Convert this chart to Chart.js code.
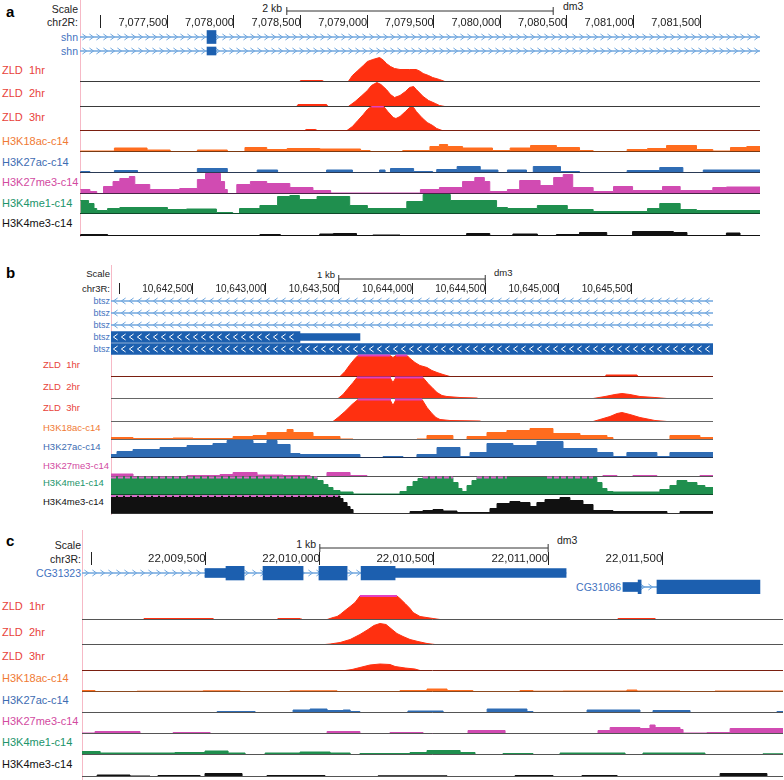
<!DOCTYPE html>
<html><head><meta charset="utf-8">
<script src="https://cdn.jsdelivr.net/npm/chart.js@4.4.1/dist/chart.umd.min.js"></script>
<style>
html,body{margin:0;padding:0;background:#fff;}
body{position:relative;width:784px;height:780px;overflow:hidden;font-family:"Liberation Sans",Arial,Helvetica,sans-serif;}
.t{position:absolute;white-space:pre;line-height:14px;}
.vl{position:absolute;width:1px;background:#f6b9c6;}
canvas{position:absolute;}
</style></head><body>
<script>
// ---------------- DATA ----------------
// Panel a: chr2R
const A_RANGE = [7076897, 7081897];
const A_TICKS = [7077000, 7077500, 7078000, 7078500, 7079000, 7079500, 7080000, 7080500, 7081000, 7081500];
const A_TICK_LABELS = ['', '7,077,500', '7,078,000', '7,078,500', '7,079,000', '7,079,500', '7,080,000', '7,080,500', '7,081,000', '7,081,500'];
const A_SCALEBAR = [7078397, 7080397];
const A_GENE_NAMES = ['shn', 'shn'];
const A_INTRONS = [[0, 7076897, 7081897, '+'], [1, 7076897, 7081897, '+']];
const A_EXONS = [[0, 7077831, 7077897, '+']];
const A_UTRS = [[1, 7077831, 7077897, '+']];
const A_ZLD1 = [[7078510,0],[7078520,1],[7078680,1],[7078690,0],[7078870,0],[7078900,6],[7078940,11],[7078980,16],[7079010,20],[7079050,22],[7079100,24],[7079130,21],[7079150,18],[7079180,15],[7079210,13],[7079250,12],[7079320,12],[7079370,12],[7079400,10],[7079420,8],[7079460,6],[7079490,4],[7079540,2],[7079580,0]];
const A_ZLD2 = [[7078490,0],[7078500,2],[7078710,2],[7078720,0],[7078870,0],[7078920,5],[7078970,11],[7079010,16],[7079040,21],[7079080,24],[7079110,22],[7079150,17],[7079180,12],[7079210,9],[7079250,11],[7079290,15],[7079320,19],[7079350,20],[7079370,17],[7079420,10],[7079460,6],[7079510,3],[7079540,1],[7079580,0]];
const A_ZLD3 = [[7078550,0],[7078560,1],[7078630,1],[7078640,0],[7078860,0],[7078900,4],[7078940,10],[7078980,16],[7079010,21],[7079040,24],[7079130,24],[7079160,19],[7079200,13],[7079220,12],[7079250,14],[7079290,19],[7079320,23],[7079350,23],[7079370,19],[7079410,13],[7079450,8],[7079490,5],[7079520,2],[7079560,0]];
const A_ZLD3_CLIP = [[7079040, 7079130]];
const A_K18 = [[7076900,0.5],[7077150,3.5],[7077390,1.5],[7077560,0],[7077760,1.5],[7077980,0],[7078110,4],[7078270,2],[7078420,3],[7078660,2.5],[7078960,1],[7079030,0],[7079270,1],[7079470,5],[7079540,7],[7079600,5],[7079710,3.5],[7079930,1],[7080060,3.5],[7080210,6],[7080400,4],[7080570,1],[7080670,0],[7080920,2],[7081070,3],[7081210,6],[7081430,2],[7081550,0.5],[7081680,4],[7081800,5],[7081897,5]];
const A_K27AC = [[7076900,1],[7076970,0],[7077150,2],[7077320,0],[7077760,4],[7077980,0],[7078200,2.5],[7078350,0],[7078710,2.5],[7078900,0],[7079100,2.5],[7079140,0],[7079180,4],[7079350,1],[7079490,0],[7079520,3],[7079670,6],[7079840,2.5],[7079970,0],[7080040,2.5],[7080180,0],[7080230,6],[7080430,1],[7080570,0],[7080920,2],[7081160,5],[7081330,0],[7081480,2.5],[7081897,2.5]];
const A_K27ME3 = [[7076900,4],[7076970,2],[7077020,0],[7077070,7],[7077140,12],[7077190,15],[7077260,17],[7077300,9],[7077410,4],[7077630,5],[7077760,14],[7077820,20],[7077930,12],[7077960,4],[7077980,0],[7078050,9],[7078150,12],[7078270,10],[7078440,6],[7078610,3],[7078740,0.5],[7079400,4],[7079540,6],[7079710,12],[7079800,16],[7079870,12],[7079910,2],[7080040,4],[7080130,13],[7080280,8],[7080380,16],[7080450,19],[7080520,6],[7080670,2],[7080820,7],[7080960,3],[7081180,7],[7081310,3],[7081550,6],[7081650,6.5],[7081897,6.5]];
const A_K4ME1 = [[7076900,13],[7076960,10],[7077000,5],[7077020,3],[7077100,5],[7077190,6],[7077540,4],[7077680,4.5],[7077900,1],[7078020,0],[7078070,5],[7078220,8],[7078350,17],[7078440,18],[7078510,14],[7078640,17],[7078880,8],[7079010,5],[7079300,12],[7079420,19],[7079620,13],[7079960,6],[7080040,5],[7080260,8],[7080480,4],[7080670,2],[7081070,5],[7081160,10],[7081310,4],[7081430,3],[7081897,3]];
const A_K4ME3 = [[7076900,1],[7077100,0],[7078220,1],[7078370,0],[7078660,1.5],[7078760,2],[7078930,0],[7079050,0.5],[7079250,0],[7079740,2],[7079910,0],[7080080,1.5],[7080260,0],[7080400,1],[7080570,3],[7080770,0],[7080960,4],[7081260,3],[7081360,0],[7081650,2.5],[7081750,0],[7081897,0]];

// Panel b: chr3R (btsz)
const B_RANGE = [10641993, 10646007];
const B_TICKS = [10642000, 10642500, 10643000, 10643500, 10644000, 10644500, 10645000, 10645500];
const B_TICK_LABELS = ['', '10,642,500', '10,643,000', '10,643,500', '10,644,000', '10,644,500', '10,645,000', '10,645,500'];
const B_SCALEBAR = [10643500, 10644500];
const B_GENE_NAMES = ['btsz', 'btsz', 'btsz', 'btsz', 'btsz'];
const B_INTRONS = [[0, 10641993, 10646007, '-'], [1, 10641993, 10646007, '-'], [2, 10641993, 10646007, '-']];
const B_EXONS = [[3, 10641993, 10643253, '-'], [4, 10641993, 10646007, '-']];
const B_UTRS = [[3, 10643253, 10643653, '-']];
const B_ZLD1 = [[10643520,0],[10643553,5],[10643587,12],[10643620,18],[10643640,21],[10643853,21],[10643873,19],[10643893,21],[10643967,21],[10643987,18],[10644020,14],[10644053,11],[10644100,9],[10644133,6],[10644167,4],[10644207,2],[10644253,0],[10645287,0],[10645293,1.5],[10645500,1.5],[10645507,0]];
const B_ZLD1_CLIP = [[10643640,10643853],[10643893,10643967]];
const B_ZLD2 = [[10643507,0],[10643540,4],[10643573,10],[10643607,16],[10643633,21],[10643853,21],[10643873,16],[10643893,21],[10644073,21],[10644107,15],[10644140,10],[10644167,6],[10644200,3],[10644233,2],[10644320,1],[10644433,0.5],[10644440,0],[10645207,0],[10645287,2],[10645353,4],[10645400,5],[10645453,4],[10645520,2],[10645620,1],[10645700,0]];
const B_ZLD2_CLIP = [[10643633,10643860],[10643886,10644073]];
const B_ZLD3 = [[10643473,0],[10643507,4],[10643553,10],[10643600,17],[10643640,22],[10643853,22],[10643873,16],[10643893,22],[10644067,22],[10644100,14],[10644133,8],[10644160,4],[10644187,2],[10644253,1],[10644453,0.5],[10644460,0],[10645207,0],[10645253,2],[10645320,5],[10645367,8],[10645400,9],[10645453,7],[10645520,4],[10645620,1],[10645700,0]];
const B_ZLD3_CLIP = [[10643640,10643860],[10643886,10644067]];
const B_K18 = [[10641993,2],[10642140,1],[10642407,1.5],[10642540,1],[10642807,3],[10642940,4],[10643033,7],[10643167,10],[10643207,7],[10643340,3],[10643520,0.5],[10643607,0],[10644033,0.5],[10644100,4],[10644273,0],[10644367,3],[10644500,7],[10644633,9],[10644787,11],[10644940,6],[10645120,4],[10645300,2],[10645340,0],[10645720,4],[10645920,2],[10646007,2]];
const B_K27AC = [[10641993,3],[10642033,6],[10642140,8],[10642320,10],[10642500,12],[10642673,14],[10642767,17],[10642940,14],[10643033,17],[10643100,13],[10643187,4],[10643253,3],[10643653,0],[10643807,1],[10643940,0],[10644033,3],[10644167,10],[10644320,1],[10644387,5],[10644500,14],[10644673,12],[10644833,16],[10645007,9],[10645233,5],[10645340,1],[10645433,5],[10645633,1],[10645720,5],[10646007,5]];
const B_K27ME3 = [[10641993,2.5],[10642140,0],[10642500,1],[10642720,2],[10642807,4],[10642967,1.5],[10643140,1],[10643320,0],[10643433,4],[10643587,1],[10643700,0],[10645273,1],[10645367,0],[10645473,1],[10645633,0],[10645920,1],[10646007,1]];
const B_K4ME1 = [[10641993,17],[10643367,14],[10643407,10],[10643440,7],[10643473,4],[10643520,2.5],[10643607,0.5],[10643920,3],[10643967,8],[10644007,13],[10644040,16],[10644073,17],[10644273,12],[10644307,6],[10644333,3],[10644367,9],[10644400,14],[10644433,17],[10645233,12],[10645267,6],[10645300,3],[10645340,2.5],[10645653,5],[10645720,9],[10645767,14],[10645833,12],[10645900,9],[10645953,7],[10646007,7]];
const B_K4ME1_CLIP = [[10641993,10643367],[10644073,10644273],[10644433,10644633],[10644900,10645207]];
const B_K4ME3 = [[10641993,17.5],[10643520,15],[10643540,11],[10643567,7],[10643587,4],[10643607,0],[10643987,2],[10644073,3],[10644140,4],[10644207,2.5],[10644300,1],[10644520,5],[10644567,10],[10644653,12],[10644720,11],[10644787,7],[10644833,11],[10644887,14],[10644987,16],[10645053,13],[10645140,9],[10645207,3],[10645340,2],[10645700,0],[10645787,2],[10646007,2]];
const B_K4ME3_CLIP = [[10641993,10643507]];

// Panel c: chr3R (CG31323 / CG31086)
const C_RANGE = [22008989, 22011998];
const C_TICKS = [22009000, 22009500, 22010000, 22010500, 22011000, 22011500];
const C_TICK_LABELS = ['', '22,009,500', '22,010,000', '22,010,500', '22,011,000', '22,011,500'];
const C_SCALEBAR = [22010000, 22011000];
const C_GENE_NAMES = ['CG31323', 'CG31086'];
const C_INTRONS = [[0, 22008989, 22011067, '+'], [1, 22011376, 22011457, '+']];
const C_EXONS = [[0,22009607,22009685,'+'],[0,22009766,22009938,'+'],[0,22010006,22010127,'+'],[0,22010187,22010333,'+'],[1,22011376,22011389,'+'],[1,22011457,22011899,'+']];
const C_UTRS = [[0,22009517,22009607,'+'],[0,22010333,22011067,'+'],[1,22011311,22011376,'+']];
const C_ZLD1 = [[22009251,0],[22009255,1],[22009552,1],[22009556,0],[22009826,0],[22009830,1],[22009925,1],[22009929,0],[22010041,0],[22010067,2],[22010084,3],[22010097,5],[22010118,9],[22010140,13],[22010161,17],[22010182,23.5],[22010341,23.5],[22010354,21],[22010376,16],[22010397,11],[22010410,7],[22010440,3],[22010496,1],[22010526,0],[22011286,0],[22011290,1],[22011449,1],[22011453,0]];
const C_ZLD1_CLIP = [[22010182, 22010341]];
const C_ZLD2 = [[22010032,0],[22010054,0.5],[22010097,2],[22010140,5],[22010182,10],[22010217,15],[22010242,19],[22010268,21],[22010294,20],[22010320,15],[22010341,11],[22010367,8],[22010397,5],[22010431,3],[22010470,1],[22010504,0]];
const C_ZLD3 = [[22010118,0],[22010148,1],[22010182,3],[22010225,5.5],[22010268,6.5],[22010311,6],[22010333,4],[22010376,2.5],[22010418,1.5],[22010440,0]];
const C_K18 = [[22008989,1],[22009045,0],[22009225,0.3],[22009509,0.7],[22009667,0],[22009882,0.7],[22010084,0],[22010354,1],[22010470,2.5],[22010556,1],[22010667,0],[22010869,1],[22010925,0.3],[22011054,0.5],[22011328,1.5],[22011371,0.5],[22011556,0],[22011706,0.5],[22011998,0.5]];
const C_K27AC = [[22008989,0],[22009569,1],[22009732,0],[22009895,2.5],[22009968,3.5],[22010041,2],[22010110,2.5],[22010140,1],[22010182,0],[22010388,1.5],[22010539,0],[22010728,3.5],[22010899,1],[22010925,0],[22011157,2.5],[22011384,0],[22011440,2],[22011599,0],[22011972,1],[22011998,1]];
const C_K27ME3 = [[22008989,0.5],[22009045,2],[22009238,0],[22009380,1],[22009539,0],[22010041,2],[22010182,0],[22010311,1],[22010453,0],[22010646,3],[22010805,0],[22011204,3],[22011256,6],[22011384,5],[22011427,8.5],[22011449,6],[22011556,4],[22011569,0.5],[22011672,1],[22011771,5],[22011998,5]];
const C_K4ME1 = [[22008989,3],[22009067,1.5],[22009388,2],[22009517,3.5],[22009616,1.5],[22009689,0],[22009775,1.5],[22009925,2.5],[22010054,1.5],[22010140,0],[22010182,1],[22010397,2],[22010470,4],[22010612,2],[22010676,0],[22010796,1],[22010925,0],[22011041,1.5],[22011320,0],[22011397,1.5],[22011663,0],[22011912,0.7],[22011998,0.7]];
const C_K4ME3 = [[22008989,0],[22009054,1.5],[22009195,0.5],[22009281,0],[22009315,1],[22009496,0],[22009517,3],[22009676,0],[22009783,1],[22010032,0],[22010260,0.7],[22010556,0],[22010848,1],[22011011,0],[22011135,1],[22011286,0],[22011728,3],[22011929,0],[22011998,0]];

const TRACK_NAMES = ['ZLD  1hr', 'ZLD  2hr', 'ZLD  3hr', 'H3K18ac-c14', 'H3K27ac-c14', 'H3K27me3-c14', 'H3K4me1-c14', 'H3K4me3-c14'];

// ---------------- STYLE / LAYOUT ----------------
const TRACK_FILL = ['#ff3010', '#ff3010', '#ff3010', '#ff6c1e', '#2f6cb4', '#d14bb2', '#1f8f4e', '#111111'];
const TRACK_TEXT = ['#e8433b', '#e8433b', '#e8433b', '#f07a34', '#3d6cb2', '#d24a9f', '#20946a', '#111111'];
const EXON_COLOR = '#1c5faf';
const GENE_TEXT = '#4272c0';
const CLIP_COLOR = '#e23fc2';

const PANELS = [
  { letter: 'a', letterY: 12, left: 80, width: 680, range: A_RANGE, ticks: A_TICKS, tickLabels: A_TICK_LABELS,
    bar: A_SCALEBAR, barText: '2 kb', barTextX: 282, barTextY: 8, dmX: 563, dmY: 6,
    rulerTop: 0, rulerArea: 15, tickLen: 13, tickPad: -12, tickFont: 11, headFont: 10.5, headRight: 78, scaleY: 9, chrY: 22, chrText: 'chr2R:',
    geneNames: A_GENE_NAMES, introns: A_INTRONS, exons: A_EXONS, utrs: A_UTRS, geneTop: 30, rowH: 14, exonH: 13, utrH: 8,
    intronColor: '#6fa6de', chevStep: 7, whiteChev: false, geneFont: 10.5, geneLabelY: [37, 51],
    series: [A_ZLD1, A_ZLD2, A_ZLD3, A_K18, A_K27AC, A_K27ME3, A_K4ME1, A_K4ME3],
    clips: [null, null, [A_ZLD3_CLIP, 24, false], null, null, null, null, null],
    base: [81, 106, 130, 151, 172, 193, 213, 235], H: [24, 24, 24, 21, 21, 21, 21, 21],
    baseColor: ['#3a3a3a', '#3a3a3a', '#7a1f10', '#7a3a12', '#2a3a55', '#4a2448', '#0f4a2a', '#111'],
    labelX: 2, labelY: [70, 93, 117, 141, 162, 182, 203, 223], labelFont: 11,
    pink: [0, 237] },
  { letter: 'b', letterY: 273, left: 111, width: 602, range: B_RANGE, ticks: B_TICKS, tickLabels: B_TICK_LABELS,
    bar: B_SCALEBAR, barText: '1 kb', barTextX: 335, barTextY: 275, dmX: 494, dmY: 273,
    rulerTop: 268, rulerArea: 15, tickLen: 11, tickPad: -11, tickFont: 10, headFont: 9.5, headRight: 110, scaleY: 274, chrY: 289, chrText: 'chr3R:',
    geneNames: B_GENE_NAMES, introns: B_INTRONS, exons: B_EXONS, utrs: B_UTRS, geneTop: 295, rowH: 12, exonH: 11, utrH: 7,
    intronColor: '#6fa6de', chevStep: 8, whiteChev: true, geneFont: 9, geneLabelY: [301, 313, 325, 337, 349],
    series: [B_ZLD1, B_ZLD2, B_ZLD3, B_K18, B_K27AC, B_K27ME3, B_K4ME1, B_K4ME3],
    clips: [[B_ZLD1_CLIP, 21, false], [B_ZLD2_CLIP, 21, false], [B_ZLD3_CLIP, 22, false], null, null, null, [B_K4ME1_CLIP, 17, true], [B_K4ME3_CLIP, 17.5, true]],
    base: [376, 398, 421, 439, 457, 476, 494, 513], H: [22, 22, 23, 18, 18, 18, 18, 18],
    baseColor: ['#7a1f10', '#666', '#666', '#666', '#1e3050', '#555', '#0f4a2a', '#333'],
    labelX: 43, labelY: [365, 387, 408, 428, 447, 466, 483, 502], labelFont: 9.5,
    pink: [265, 515] },
  { letter: 'c', letterY: 541, left: 82, width: 701, range: C_RANGE, ticks: C_TICKS, tickLabels: C_TICK_LABELS,
    bar: C_SCALEBAR, barText: '1 kb', barTextX: 316, barTextY: 544, dmX: 557, dmY: 540,
    rulerTop: 537, rulerArea: 15, tickLen: 13, tickPad: -13, tickFont: 11.5, headFont: 10.5, headRight: 81, scaleY: 545, chrY: 559, chrText: 'chr3R:',
    geneNames: C_GENE_NAMES, introns: C_INTRONS, exons: C_EXONS, utrs: C_UTRS, geneTop: 566, rowH: 14, exonH: 14, utrH: 9,
    intronColor: '#6fa6de', chevStep: 8, whiteChev: false, geneFont: 10.5, geneLabelY: [573, 587], geneLabelRight: [81, 621],
    series: [C_ZLD1, C_ZLD2, C_ZLD3, C_K18, C_K27AC, C_K27ME3, C_K4ME1, C_K4ME3],
    clips: [[C_ZLD1_CLIP, 23.5, false], null, null, null, null, null, null, null],
    base: [619, 644, 670, 691, 712, 733, 754, 776], H: [24, 24, 24, 20, 20, 20, 20, 20],
    baseColor: ['#555', '#555', '#7a1f10', '#8a4a20', '#555', '#555', '#555', '#555'],
    labelX: 2, labelY: [606, 632, 656, 678, 700, 721, 742, 764], labelFont: 11,
    pink: [530, 780] }
];

// ---------------- HELPERS ----------------
Chart.defaults.font.family = '"Liberation Sans", Arial, Helvetica, sans-serif';
Chart.defaults.animation = false;
Chart.defaults.events = [];
Chart.defaults.plugins.legend.display = false;
Chart.defaults.plugins.tooltip.enabled = false;

function txt(s, x, y, size, color, align, bold) {
  const d = document.createElement('div');
  d.className = 't';
  d.textContent = s;
  d.style.fontSize = size + 'px';
  d.style.top = (y - 7) + 'px';
  d.style.color = color || '#222';
  if (bold) d.style.fontWeight = 'bold';
  if (align === 'right') d.style.right = (784 - x) + 'px'; else d.style.left = x + 'px';
  document.body.appendChild(d);
}
function cv(left, top, w, h) {
  const c = document.createElement('canvas');
  c.width = w; c.height = h;
  c.style.cssText = 'position:absolute;left:' + left + 'px;top:' + top + 'px;width:' + w + 'px;height:' + h + 'px;';
  document.body.appendChild(c);
  return c;
}

const chevronPlugin = {
  id: 'chevrons',
  afterDatasetDraw(chart, args) {
    const ds = chart.data.datasets[args.index];
    if (!ds.chevron) return;
    const ctx = chart.ctx;
    ctx.save();
    ctx.strokeStyle = ds.chevron;
    ctx.lineWidth = 1;
    args.meta.data.forEach((el, j) => {
      const item = ds.data[j];
      const dir = item.strand === '-' ? -1 : 1;
      const p = el.getProps(['x', 'y', 'base'], true);
      const x0 = Math.min(p.x, p.base), x1 = Math.max(p.x, p.base);
      const a = ds.chevSize, st = ds.chevStep;
      for (let cx = x0 + st / 2; cx < x1 - 2; cx += st) {
        const px = Math.round(cx) + 0.5;
        ctx.beginPath();
        ctx.moveTo(px - dir * a * 0.7, p.y - a);
        ctx.lineTo(px + dir * a * 0.7, p.y);
        ctx.lineTo(px - dir * a * 0.7, p.y + a);
        ctx.stroke();
      }
    });
    ctx.restore();
  }
};

function ruler(P) {
  const c = cv(P.left, P.rulerTop, P.width, P.rulerArea + 16);
  new Chart(c, {
    type: 'line',
    data: { datasets: [{
      data: [{ x: P.bar[0], y: 0.5 }, { x: P.bar[1], y: 0.5 }],
      borderColor: '#333', borderWidth: 1, fill: false,
      pointStyle: 'line', pointRadius: 6, pointRotation: 90,
      pointBorderColor: '#333', pointBorderWidth: 1, pointBackgroundColor: '#333'
    }] },
    options: {
      responsive: false, animation: false, layout: { padding: 0 },
      scales: {
        x: {
          type: 'linear', position: 'bottom', min: P.range[0], max: P.range[1],
          afterBuildTicks: ax => { ax.ticks = P.ticks.map(v => ({ value: v })); },
          afterFit: ax => { ax.height = 16; },
          grid: { display: true, drawOnChartArea: false, drawTicks: true, tickLength: P.tickLen, color: '#222', lineWidth: 1 },
          border: { display: false },
          ticks: { autoSkip: false, maxRotation: 0, minRotation: 0, align: 'end', padding: P.tickPad,
                   color: '#222', font: { size: P.tickFont }, callback: (v, k) => P.tickLabels[k] }
        },
        y: { display: false, min: 0, max: 1 }
      }
    }
  });
}

function genes(P) {
  const n = P.geneNames.length, h = n * P.rowH;
  const c = cv(P.left, P.geneTop, P.width, h);
  const ids = P.geneNames.map((_, k) => 'r' + k);
  const mk = arr => arr.map(d => ({ y: ids[d[0]], x: [d[1], d[2]], strand: d[3] }));
  const ds = [
    { data: mk(P.introns), backgroundColor: P.intronColor, barThickness: 1, grouped: false, order: 3,
      chevron: P.intronColor, chevStep: P.chevStep, chevSize: 3, borderWidth: 0 },
    { data: mk(P.utrs), backgroundColor: EXON_COLOR, barThickness: P.utrH, grouped: false, order: 2, borderWidth: 0 },
    { data: mk(P.exons), backgroundColor: EXON_COLOR, barThickness: P.exonH, grouped: false, order: 1, borderWidth: 0,
      chevron: P.whiteChev ? '#ffffff' : null, chevStep: P.chevStep, chevSize: 3 }
  ];
  new Chart(c, {
    type: 'bar',
    data: { labels: ids, datasets: ds },
    options: {
      indexAxis: 'y', responsive: false, animation: false, layout: { padding: 0 },
      scales: {
        x: { type: 'linear', display: false, min: P.range[0], max: P.range[1] },
        y: { type: 'category', display: false, offset: true }
      }
    },
    plugins: [chevronPlugin]
  });
}

function track(P, i) {
  const H = P.H[i], base = P.base[i];
  const c = cv(P.left, base - H, P.width, H + 2);
  const fill = TRACK_FILL[i];
  const ds = [{
    data: P.series[i].map(p => ({ x: p[0], y: p[1] })),
    fill: 'origin', backgroundColor: fill, borderColor: fill, borderWidth: 1,
    pointRadius: 0, stepped: i >= 3, tension: 0, order: 3
  }, {
    data: [{ x: P.range[0], y: 0 }, { x: P.range[1], y: 0 }],
    borderColor: P.baseColor[i], borderWidth: 1, pointRadius: 0, fill: false, order: 1
  }];
  const cl = P.clips[i];
  if (cl) {
    const pts = [];
    cl[0].forEach(s => { pts.push({ x: s[0], y: cl[1] }, { x: s[1], y: cl[1] }, { x: s[1] + 1, y: null }); });
    ds.push({ data: pts, borderColor: cl[2] ? '#d86cc8' : CLIP_COLOR, borderWidth: 2, borderDash: cl[2] ? [5, 2] : [],
              pointRadius: 0, fill: false, spanGaps: false, order: 2 });
  }
  new Chart(c, {
    type: 'line',
    data: { datasets: ds },
    options: {
      responsive: false, animation: false, layout: { padding: 0 },
      scales: {
        x: { type: 'linear', display: false, min: P.range[0], max: P.range[1] },
        y: { display: false, min: -1.5, max: H + 0.5 }
      }
    }
  });
}

// ---------------- BUILD ----------------
PANELS.forEach(P => {
  const vl = document.createElement('div');
  vl.className = 'vl';
  vl.style.left = P.left + 'px'; vl.style.top = P.pink[0] + 'px'; vl.style.height = (P.pink[1] - P.pink[0]) + 'px';
  document.body.appendChild(vl);

  txt(P.letter, 6, P.letterY, 15, '#000', 'left', true);
  txt('Scale', P.headRight, P.scaleY, P.headFont, '#222', 'right');
  txt(P.chrText, P.headRight, P.chrY, P.headFont, '#222', 'right');
  txt(P.barText, P.barTextX, P.barTextY, P.headFont, '#222', 'right');
  txt('dm3', P.dmX, P.dmY, P.headFont, '#222', 'left');
  P.geneNames.forEach((g, k) => {
    const r = P.geneLabelRight ? P.geneLabelRight[k] : P.headRight;
    txt(g, r, P.geneLabelY[k], P.geneFont, GENE_TEXT, 'right');
  });
  TRACK_NAMES.forEach((nm, i) => txt(nm, P.labelX, P.labelY[i], P.labelFont, TRACK_TEXT[i], 'left'));

  ruler(P);
  genes(P);
  for (let i = 0; i < 8; i++) track(P, i);
});
</script>
</body></html>
